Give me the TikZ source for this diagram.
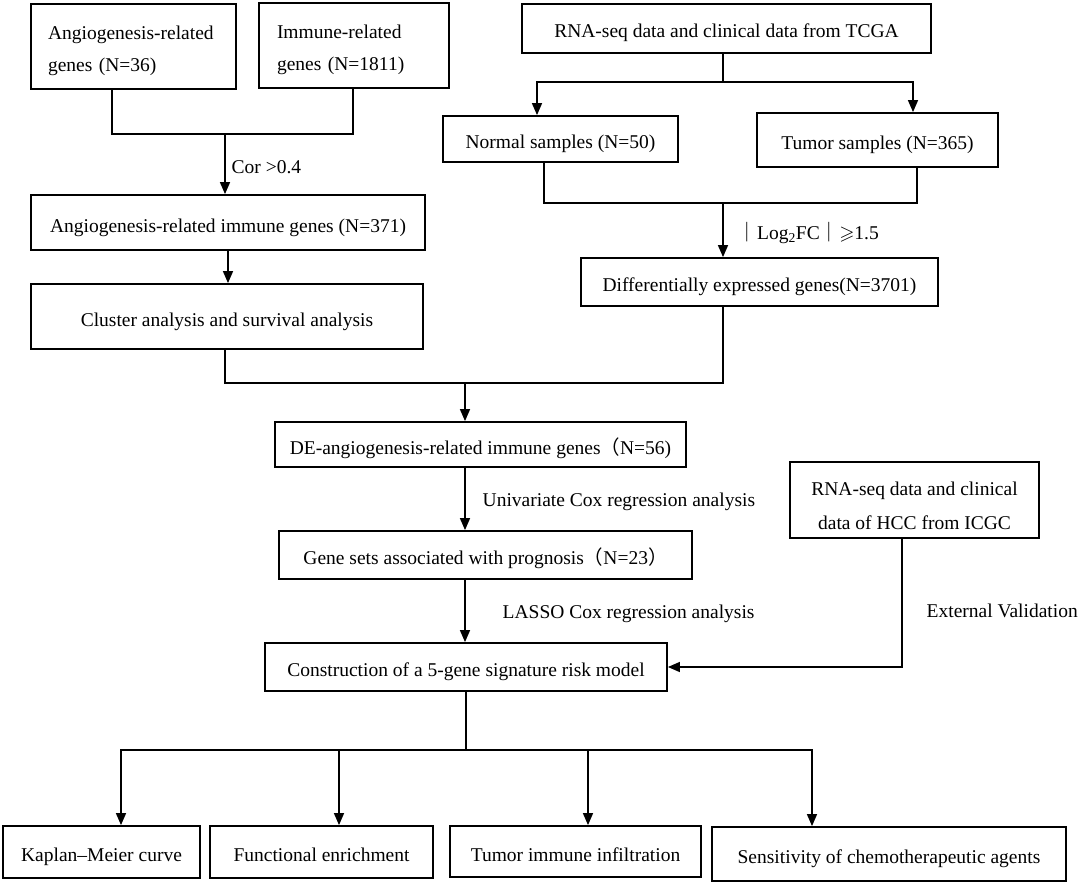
\documentclass[tikz,border=0pt]{standalone}
\usepackage{fontspec}
\setmainfont{Liberation Serif}
\newfontfamily\cjk{Noto Sans CJK SC}
\usepackage{amssymb}
\usetikzlibrary{arrows.meta}
\tikzset{>={Triangle[length=12pt,width=10pt]},
  frame/.style={draw,line width=1.8pt,inner sep=2pt,align=center},
  box/.style={frame,text height=22pt,text depth=3pt},
  lbox/.style={frame,align=left,inner xsep=17pt},
  link/.style={line width=1.4pt},
  note/.style={inner sep=0pt,anchor=west,yshift=-3pt}}

\begin{document}
\begin{tikzpicture}[x=1pt,y=-1pt,font=\fontsize{19.5}{32}\selectfont]
  \useasboundingbox (0,0) rectangle (1079,883);

  % left column
  \node[lbox,text width=171pt,minimum height=85pt] (angio) at (133.5,46.5) {\rule{0pt}{21.5pt}Angiogenesis-related\\genes (N=36)};
  \node[lbox,inner xsep=18pt,text width=154pt,minimum height=85pt] (immune) at (354,45.5) {\rule{0pt}{21.5pt}Immune-related\\genes (N=1811)};
  \node[box,minimum width=394pt,minimum height=55pt] (angimm) at (228,222.5) {Angiogenesis-related immune genes (N=371)};
  \node[box,minimum width=392pt,minimum height=65pt] (cluster) at (227,316.5) {Cluster analysis and survival analysis};

  % right column
  \node[box,minimum width=409pt,minimum height=49pt] (tcga) at (726.5,28.5) {RNA-seq data and clinical data from TCGA};
  \node[box,minimum width=235pt,minimum height=46pt] (normal) at (560.5,139) {Normal samples (N=50)};
  \node[box,minimum width=241pt,minimum height=54pt] (tumor) at (877.5,140) {Tumor samples (N=365)};
  \node[box,minimum width=357pt,minimum height=48pt] (deg) at (759.5,282) {Differentially expressed genes(N=3701)};

  % middle
  \node[box,minimum width=411pt,minimum height=45pt] (de) at (480.5,444.5) {DE-angiogenesis-related immune genes{\cjk （}N=56)};
  \node[box,minimum width=413pt,minimum height=48pt] (gset) at (485.5,555) {Gene sets associated with prognosis{\cjk （}N=23{\cjk ）}};
  \node[box,minimum width=402pt,minimum height=48pt] (model) at (466,667) {Construction of a 5-gene signature risk model};
  \node[frame,minimum width=249pt,minimum height=76pt,font=\fontsize{19.5}{34}\selectfont] (icgc) at (914.5,500) {\rule{0pt}{25.5pt}RNA-seq data and clinical\\data of HCC from ICGC};

  % bottom row
  \node[box,minimum width=197pt,minimum height=52pt] (km) at (101.5,852) {Kaplan--Meier curve};
  \node[box,minimum width=223pt,minimum height=52pt] (func) at (321.5,852) {Functional enrichment};
  \node[box,minimum width=251pt,minimum height=51pt] (tii) at (575.5,851.5) {Tumor immune infiltration};
  \node[box,minimum width=354pt,minimum height=54pt] (chemo) at (889,854) {Sensitivity of chemotherapeutic agents};

  % junctions
  \coordinate (j1) at (225,134);
  \coordinate (j2) at (723,82);
  \coordinate (j3) at (723,203);
  \coordinate (j4) at (465,383);
  \coordinate (j5) at (466,750);

  \draw[link] ([xshift=-21.5pt]angio.south) |- (j1) -| ([xshift=-1pt]immune.south);
  \draw[link,->] (j1) -- node[note,xshift=6pt] {Cor >0.4} (j1 |- angimm.north);
  \draw[link,->] (angimm.south) -- (angimm.south |- cluster.north);

  \draw[link] (tcga.south -| j2) -- (j2);
  \draw[link,->] (j2) -| ([xshift=-23.5pt]normal.north);
  \draw[link,->] (j2) -| ([xshift=35.5pt]tumor.north);
  \draw[link] ([xshift=-16.5pt]normal.south) |- (j3) -| ([xshift=39.5pt]tumor.south);
  \draw[link,->] (j3) -- node[note,xshift=14pt] {{\cjk ｜}Log\textsubscript{2}FC{\cjk ｜}$\geqslant$1.5} (j3 |- deg.north);

  \draw[link] ([xshift=-2pt]cluster.south) |- (j4) -| (j3 |- deg.south);
  \draw[link,->] (j4) -- (j4 |- de.north);
  \draw[link,->] (j4 |- de.south) -- node[note,xshift=17pt] {Univariate Cox regression analysis} (j4 |- gset.north);
  \draw[link,->] (j4 |- gset.south) -- node[note,xshift=37pt] {LASSO Cox regression analysis} (j4 |- model.north);
  \draw[link,->] ([xshift=-12.5pt]icgc.south) |- node[note,pos=0.27,xshift=24pt] {External Validation} (model.east);

  \draw[link] (model.south) -- (j5);
  \draw[link,->] (j5) -| ([xshift=19.5pt]km.north);
  \draw[link,->] (j5) -| ([xshift=17.5pt]func.north);
  \draw[link,->] (j5) -| ([xshift=12.5pt]tii.north);
  \draw[link,->] (j5) -| ([xshift=-77pt]chemo.north);
\end{tikzpicture}
\end{document}
